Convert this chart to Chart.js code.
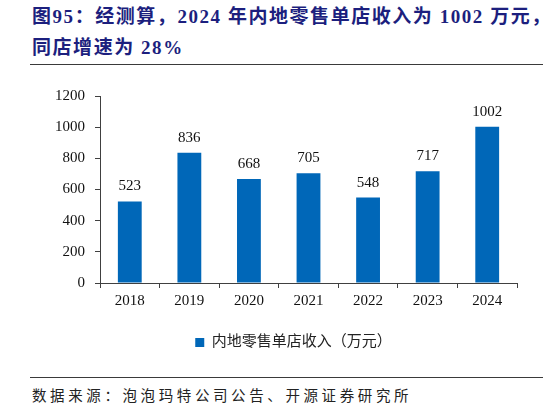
<!DOCTYPE html>
<html>
<head>
<meta charset="utf-8">
<script src="https://cdn.jsdelivr.net/npm/chart.js@4"></script>
<style>
  html, body { margin: 0; padding: 0; background: #fff; }
  body { width: 546px; height: 405px; position: relative; overflow: hidden; }
  .title { position: absolute; left: 32px; font-family: "Liberation Serif", "Noto Sans CJK SC", serif; font-weight: bold; font-size: 19px; color: #1c1f7e; letter-spacing: 1.55px; white-space: nowrap; line-height: 22px; }
  .rule { position: absolute; left: 30px; width: 513px; height: 0; border-top: 1.5px solid #3a3a3a; }
  .source { position: absolute; left: 32px; top: 387px; font-family: "Liberation Serif", "Noto Sans CJK SC", serif; font-size: 14.5px; color: #222; letter-spacing: 3.6px; white-space: nowrap; line-height: 18px; }
  #wrap { position: absolute; left: 0; top: 70px; width: 546px; height: 290px; }
</style>
</head>
<body>
<div class="title" style="top:6px;">图95：经测算，2024 年内地零售单店收入为 1002 万元，</div>
<div class="title" style="top:37px;">同店增速为 28%</div>
<div class="rule" style="top:64px;"></div>
<div id="wrap"><canvas id="c"></canvas></div>
<div class="rule" style="top:377px;"></div>
<div class="source">数据来源：泡泡玛特公司公告、开源证券研究所</div>
<script>
const categories = ['2018', '2019', '2020', '2021', '2022', '2023', '2024'];
const seriesName = '内地零售单店收入（万元）';
const revenue = [523, 836, 668, 705, 548, 717, 1002];
const yTicks = [0, 200, 400, 600, 800, 1000, 1200];

const serif = '"Liberation Serif", "Noto Sans CJK SC", serif';

const valueLabels = {
  id: 'valueLabels',
  afterDatasetsDraw(chart) {
    const ctx = chart.ctx;
    const meta = chart.getDatasetMeta(0);
    ctx.save();
    ctx.font = '15px ' + serif;
    ctx.fillStyle = '#111';
    ctx.textAlign = 'center';
    ctx.textBaseline = 'alphabetic';
    meta.data.forEach((bar, i) => {
      ctx.fillText(String(revenue[i]), bar.x, bar.y - 11);
    });
    ctx.restore();
  }
};

// center the legend under the plot area rather than the whole canvas
const legendShift = {
  id: 'legendShift',
  afterLayout(chart) {
    if (chart.legend) { chart.legend.left = 70; }
  }
};

new Chart(document.getElementById('c'), {
  type: 'bar',
  data: {
    labels: categories,
    datasets: [{
      label: seriesName,
      data: revenue,
      backgroundColor: '#0067b8',
      borderWidth: 0,
      categoryPercentage: 1.0,
      barPercentage: 0.40
    }]
  },
  options: {
    responsive: true,
    maintainAspectRatio: false,
    animation: false,
    devicePixelRatio: 1,
    layout: { padding: { top: 26, right: 29, left: 0, bottom: 0 } },
    plugins: {
      legend: {
        position: 'bottom',
        labels: {
          boxWidth: 9, boxHeight: 9, padding: 10,
          color: '#222',
          font: { family: serif, size: 15 }
        }
      },
      tooltip: { enabled: false }
    },
    scales: {
      x: {
        grid: { display: true, drawOnChartArea: false, drawTicks: true, tickLength: 5, color: '#404040', offset: true },
        border: { display: true, color: '#404040', width: 1 },
        ticks: { color: '#111', font: { family: serif, size: 15 }, padding: 4 },
        afterFit(s) { s.height = 42; }
      },
      y: {
        min: 0, max: 1200,
        afterBuildTicks(s) { s.ticks = yTicks.map(v => ({ value: v })); },
        grid: { display: true, drawOnChartArea: false, drawTicks: true, tickLength: 5, color: '#404040' },
        border: { display: true, color: '#404040', width: 1 },
        ticks: { color: '#111', font: { family: serif, size: 15 }, padding: 10, callback: v => String(v) },
        afterFit(s) { s.width = 100; }
      }
    }
  },
  plugins: [valueLabels, legendShift]
});
</script>
</body>
</html>
